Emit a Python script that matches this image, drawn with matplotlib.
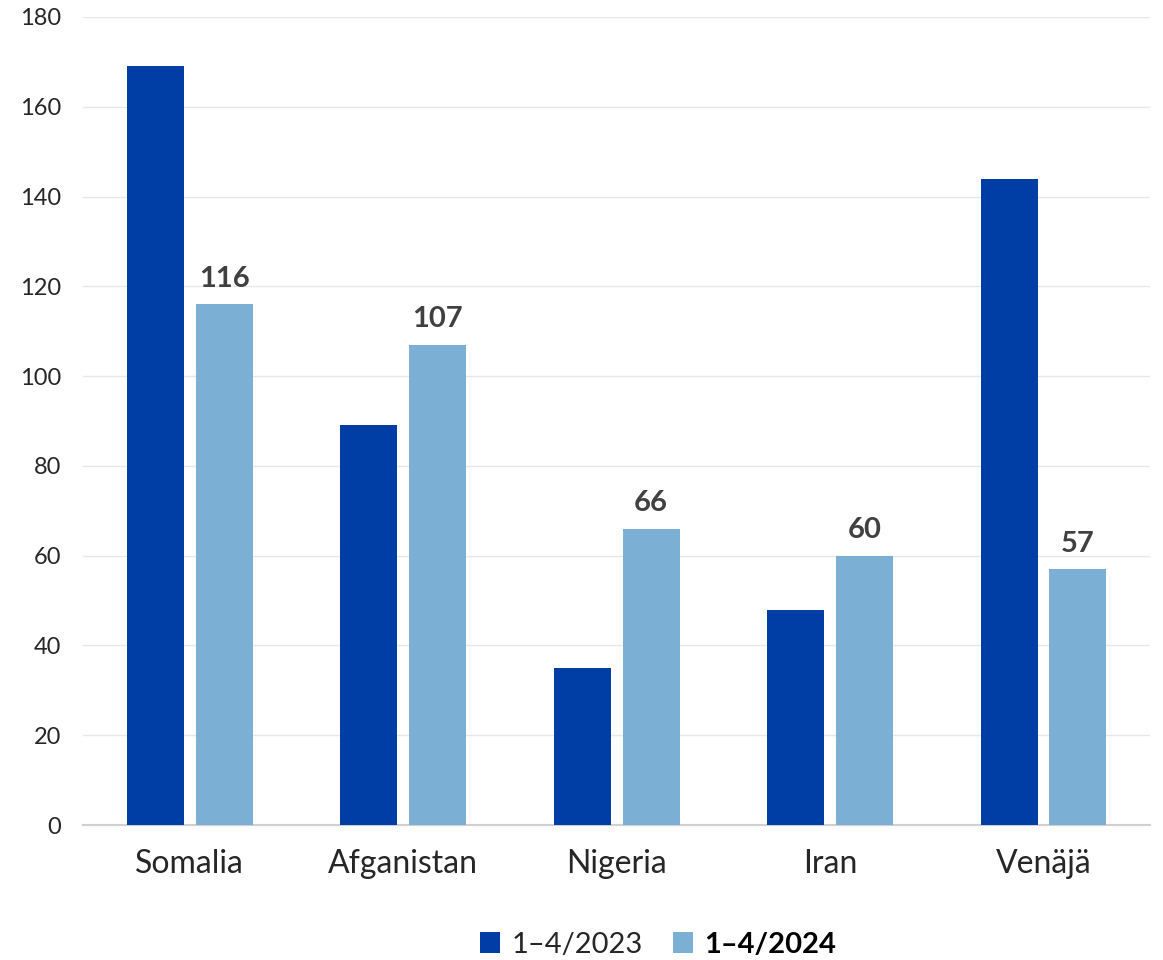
import matplotlib.pyplot as plt
import numpy as np

maat = ["Somalia", "Afganistan", "Nigeria", "Iran", "Venäjä"]
arvot_2023 = [169, 89, 35, 48, 144]
arvot_2024 = [116, 107, 66, 60, 57]
sarjat = ["1–4/2023", "1–4/2024"]

TUMMA = "#003da5"
VAALEA = "#7bafd4"
TEKSTI = "#262626"

plt.rcParams["font.family"] = ["Lato", "DejaVu Sans"]

fig = plt.figure(figsize=(11.63, 9.6), dpi=100)
ax = fig.add_axes([0.0714, 0.1406, 0.9176, 0.8417])

x = np.arange(len(maat))
lev = 0.267
vali = 0.056
ax.bar(x - (lev + vali) / 2, arvot_2023, lev, color=TUMMA, label=sarjat[0], zorder=3)
palkit = ax.bar(x + (lev + vali) / 2, arvot_2024, lev, color=VAALEA, label=sarjat[1], zorder=3)

for p, v in zip(palkit, arvot_2024):
    ax.annotate(str(v), (p.get_x() + p.get_width() / 2, v), xytext=(0, 9),
                textcoords="offset points", ha="center", va="bottom",
                fontsize=21, fontweight="bold", color="#404040")

ax.set_xlim(-0.5, len(maat) - 0.5)
ax.set_ylim(0, 180)
ax.set_yticks(range(0, 181, 20))
ax.yaxis.grid(True, color="#e8e8e8", linewidth=1, zorder=0)
ax.set_xticks(x)
ax.set_xticklabels(maat, fontsize=23, color=TEKSTI)
ax.tick_params(axis="y", labelsize=17, labelcolor=TEKSTI, length=0, pad=16)
ax.tick_params(axis="x", length=0, pad=17)
for s in ["top", "right", "left"]:
    ax.spines[s].set_visible(False)
ax.spines["bottom"].set_color("#d0d0d0")
ax.spines["bottom"].set_linewidth(1.5)

leg = fig.legend(loc="center", bbox_to_anchor=(0.566, 0.016), ncol=2, frameon=False,
                 fontsize=21, handlelength=0.7, handleheight=0.7, handletextpad=0.4,
                 columnspacing=1.0)
for t in leg.get_texts():
    t.set_color(TEKSTI)
leg.get_texts()[1].set_fontweight("bold")
leg.get_texts()[1].set_color("black")

fig.savefig("out.png", dpi=100)
